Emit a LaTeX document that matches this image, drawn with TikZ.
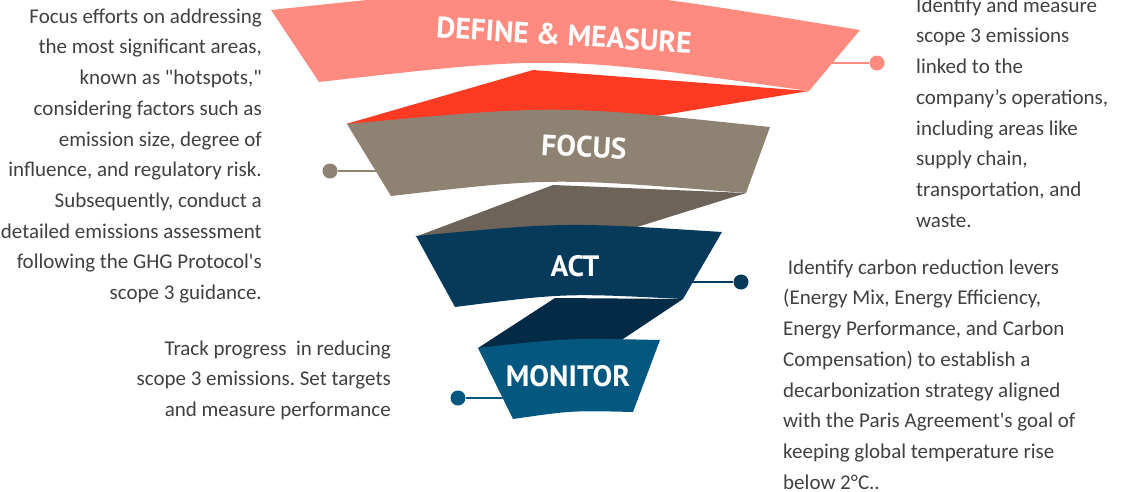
\documentclass[tikz,border=0pt]{standalone}
\usepackage{fontspec}
\setmainfont{Carlito}
\newfontfamily\labelfont{PT Sans}
\usetikzlibrary{calc}
\frenchspacing

\definecolor{measure}{HTML}{FF8A7F}
\definecolor{measurefold}{HTML}{FF3A23}
\definecolor{focus}{HTML}{8E8273}
\definecolor{focusfold}{HTML}{6D6358}
\definecolor{act}{HTML}{053A5A}
\definecolor{actfold}{HTML}{032B45}
\definecolor{monitor}{HTML}{04577F}
\definecolor{bodytext}{HTML}{404040}

\tikzset{
  stagelabel/.style={text=white, font=\labelfont\bfseries\fontsize{29.5}{32}\selectfont, inner sep=0},
  note/.style={text=bodytext, font=\fontsize{21}{30.7}\selectfont, inner sep=0},
  pinball/.style={circle, fill=#1, minimum size=15pt, inner sep=0},
  stem/.style={draw=#1, line width=2.2pt},
}

\begin{document}
\begin{tikzpicture}[x=1pt,y=-1pt]
\useasboundingbox (0,0) rectangle (1138,491);

% folded back faces between the stages
\fill[measurefold] (533,70) -- (809,91) -- (651,117) -- (346,124) -- cycle;
\fill[focusfold] (553,185) -- (746,193) -- (637,227) -- (415,237) -- cycle;
\fill[actfold] (555,298) -- (683,299) -- (620,341) -- (478,348) -- cycle;

% anchor points where the callout stems meet the bands
\coordinate (m-edge) at (825,63);
\coordinate (f-edge) at (382,171);
\coordinate (a-edge) at (686,282);
\coordinate (o-edge) at (508,398);

\node[pinball=measure] (m-pin) at (877,63) {};
\node[pinball=focus] (f-pin) at (330,171) {};
\node[pinball=act] (a-pin) at (741,282) {};
\node[pinball=monitor] (o-pin) at (458,398) {};

\draw[stem=measure] (m-edge) -- (m-pin);
\draw[stem=focus] (f-edge) -- (f-pin);
\draw[stem=act] (a-edge) -- (a-pin);
\draw[stem=monitor] (o-edge) -- (o-pin);

% the four stage bands
\fill[measure] (271,10) .. controls (554.5,-20) .. (860,30) -- (809,91)
  .. controls (556,55) .. (319,82) -- cycle;
\fill[focus] (347,124) .. controls (557.5,104.5) .. (770,127) -- (746,193)
  .. controls (551.5,177.5) .. (391,196) -- cycle;
\fill[act] (416,236) .. controls (565,222) .. (722,232) -- (683,299)
  .. controls (565,293) .. (455,307) -- cycle;
\fill[monitor] (478,348) .. controls (567,338) .. (660,340) -- (633,412)
  .. controls (572,410.5) .. (513,419) -- cycle;

% stage titles
\node[stagelabel, rotate=-3.5] (m-title) at (564,35) {DEFINE \& MEASURE};
\node[stagelabel, rotate=-3] (f-title) at (584,147) {FOCUS};
\node[stagelabel] (a-title) at (575,266) {ACT};
\node[stagelabel] (o-title) at (568,376) {MONITOR};

% descriptions
\node[note, align=right, anchor=north east] (f-text) at (262,8.5) {Focus efforts on addressing\\
the most significant areas,\\
known as \textquotedbl hotspots,\textquotedbl\\
considering factors such as\\
emission size, degree of\\
influence, and regulatory risk.\\
Subsequently, conduct a\\
detailed emissions assessment\\
following the GHG Protocol\textquotesingle s\\
scope 3 guidance.};

\node[note, align=left, anchor=north west] (m-text) at (916,-2.5) {Identify and measure\\
scope 3 emissions\\
linked to the\\
company’s operations,\\
including areas like\\
supply chain,\\
transportation, and\\
waste.};

\node[note, align=left, anchor=north west] (a-text) at (783,259.5) {\ Identify carbon reduction levers\\
(Energy Mix, Energy Efficiency,\\
Energy Performance, and Carbon\\
Compensation) to establish a\\
decarbonization strategy aligned\\
with the Paris Agreement\textquotesingle s goal of\\
keeping global temperature rise\\
below 2°C..};

\node[note, align=right, anchor=north east] (o-text) at (391,340.5) {Track progress~ in reducing\\
scope 3 emissions. Set targets\\
and measure performance};

\end{tikzpicture}
\end{document}
